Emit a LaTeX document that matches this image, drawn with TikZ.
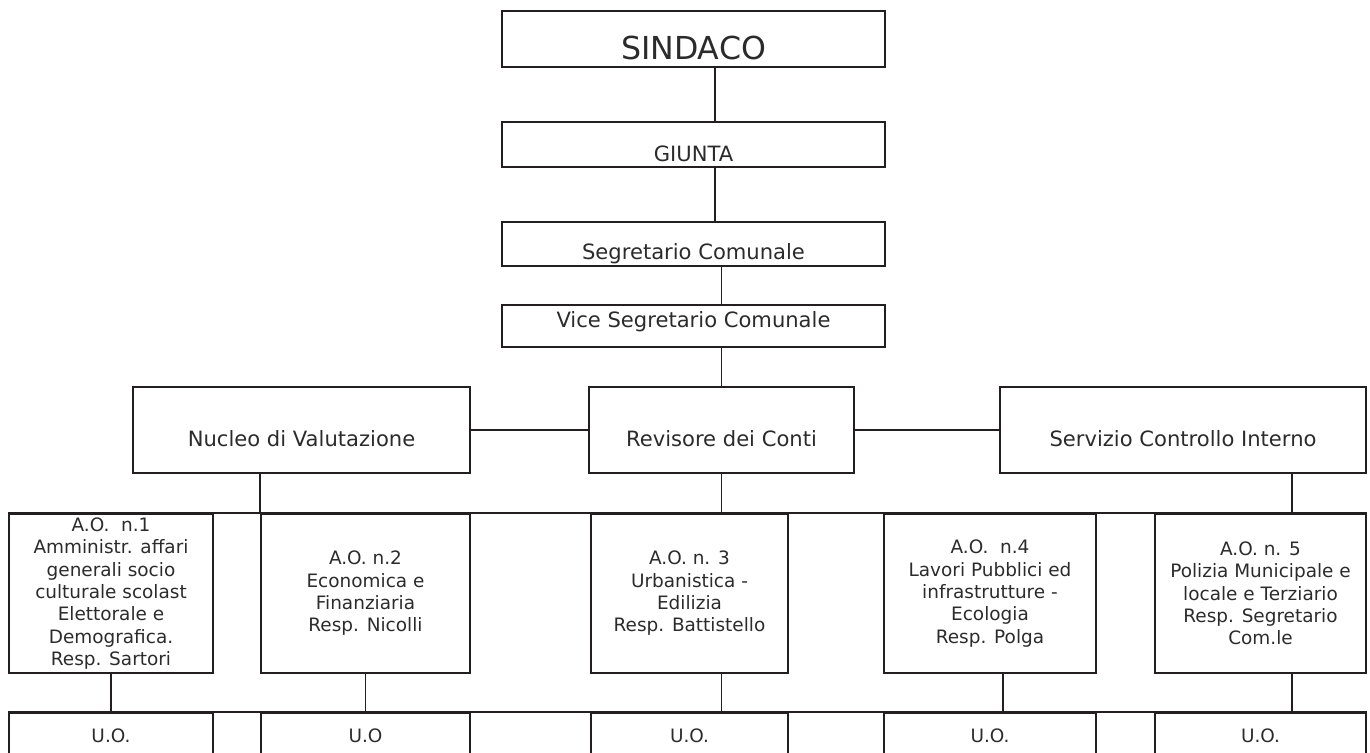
\documentclass[tikz,border=0pt]{standalone}
\usepackage{fontspec}
\setmainfont{DejaVu Sans}
\usetikzlibrary{positioning}
\definecolor{orgline}{HTML}{231F20}
\definecolor{orgtext}{HTML}{2B2B2B}

\begin{document}
\begin{tikzpicture}[
    box/.style={rectangle, draw=orgline, line width=1.1pt, inner sep=0pt,
                text=orgtext, align=center},
    topbox/.style={box, minimum width=7.66cm, font=\fontsize{12}{14}\selectfont},
    midbox/.style={box, minimum height=1.72cm, text height=0.86cm,
                   text depth=0.18cm, font=\fontsize{12}{14}\selectfont},
    aobox/.style={box, minimum height=3.18cm, font=\fontsize{10.5}{12.7}\selectfont},
    uobox/.style={box, minimum height=1.74cm, text height=0.30cm,
                  text depth=0.88cm, font=\fontsize{10.5}{12.7}\selectfont},
    link/.style={draw=orgline, line width=1.1pt}
  ]

  % ---- Page frame ----
  \useasboundingbox (0,0) rectangle (27.4,15.04);
  \clip (0,0) rectangle (27.4,15.04);

  % ---- Top chain ----
  \node[topbox, minimum height=1.12cm, text height=0.94cm, text depth=0.10cm,
        font=\fontsize{18}{21}\selectfont]
    (sindaco) at (13.87,14.26) {SINDACO};
  \node[topbox, minimum height=0.90cm, text height=0.78cm, text depth=0.08cm]
    (giunta) at (13.87,12.15) {GIUNTA};
  \node[topbox, minimum height=0.88cm, text height=0.74cm, text depth=0.10cm]
    (segretario) at (13.87,10.16) {Segretario Comunale};
  \node[topbox, minimum height=0.84cm, text height=0.34cm, text depth=0.26cm]
    (vice) at (13.87,8.52) {Vice Segretario Comunale};

  % ---- Control bodies ----
  \node[midbox, minimum width=6.74cm] (nucleo)   at (6.03,6.44)  {Nucleo di Valutazione};
  \node[midbox, minimum width=5.30cm] (revisore) at (14.43,6.44) {Revisore dei Conti};
  \node[midbox, minimum width=7.32cm] (servizio) at (23.66,6.44) {Servizio Controllo Interno};

  % ============ A.O. ROW ============
  \node[aobox, minimum width=4.08cm] (ao1) at (2.22,3.17)
    {A.O.~~n.1\\Amministr. affari\\generali socio\\culturale scolast\\Elettorale e\\Demografica.\\Resp. Sartori};
  \node[aobox, minimum width=4.18cm] (ao2) at (7.31,3.17)
    {A.O. n.2\\Economica e\\Finanziaria\\Resp. Nicolli};
  \node[aobox, minimum width=3.94cm] (ao3) at (13.79,3.17)
    {A.O. n. 3\\Urbanistica -\\Edilizia\\Resp. Battistello};
  \node[aobox, minimum width=4.24cm] (ao4) at (19.80,3.17)
    {A.O.~~n.4\\Lavori Pubblici ed\\infrastrutture -\\Ecologia\\Resp. Polga};
  \node[aobox, minimum width=4.22cm] (ao5) at (25.21,3.17)
    {A.O. n. 5\\Polizia Municipale e\\locale e Terziario\\Resp. Segretario\\Com.le};

  % ============ U.O. ROW ============
  \node[uobox, minimum width=4.08cm] (uo1) at (2.22,-0.09)  {U.O.};
  \node[uobox, minimum width=4.18cm] (uo2) at (7.31,-0.09)  {U.O};
  \node[uobox, minimum width=3.94cm] (uo3) at (13.79,-0.09) {U.O.};
  \node[uobox, minimum width=4.24cm] (uo4) at (19.80,-0.09) {U.O.};
  \node[uobox, minimum width=4.22cm] (uo5) at (25.21,-0.09) {U.O.};

  % ---- Vertical chain ----
  \draw[link] ([xshift=0.43cm]sindaco.south) -- ([xshift=0.43cm]giunta.north);
  \draw[link] ([xshift=0.43cm]giunta.south) -- ([xshift=0.43cm]segretario.north);
  \draw[link] (segretario.south -| revisore.north) -- (vice.north -| revisore.north);
  \draw[link] (vice.south -| revisore.north) -- (revisore.north);

  % ---- Side links ----
  \draw[link] (nucleo.east) -- (revisore.west);
  \draw[link] (revisore.east) -- (servizio.west);

  % ---- Drops to the A.O. row ----
  \coordinate (dropS) at ([xshift=2.18cm]servizio.south);
  \draw[link] (nucleo.south -| ao2.north west) -- (ao2.north west);
  \draw[link] (revisore.south) -- (revisore.south |- ao3.north);
  \draw[link] (dropS) -- (dropS |- ao5.north);
  \draw[link] (ao1.north west) -- (ao5.north east);

  % ---- Drops to the U.O. row ----
  \draw[link] (ao1.south) -- (uo1.north);
  \draw[link] (ao2.south) -- (uo2.north);
  \draw[link] (revisore.south |- ao3.south) -- (revisore.south |- uo3.north);
  \draw[link] ([xshift=0.26cm]ao4.south) -- ([xshift=0.26cm]uo4.north);
  \draw[link] (dropS |- ao5.south) -- (dropS |- uo5.north);
  \draw[link] (uo1.north west) -- (uo5.north east);

\end{tikzpicture}
\end{document}
